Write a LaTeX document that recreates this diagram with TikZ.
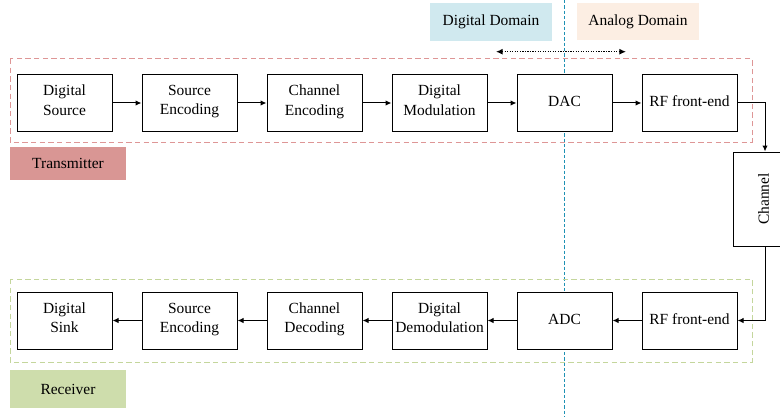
\documentclass[tikz,border=0pt]{standalone}
\usepackage{fontspec}
\setmainfont{Liberation Serif}
\usetikzlibrary{arrows.meta}

\definecolor{txline}{RGB}{222,150,150}
\definecolor{rxline}{RGB}{196,214,156}
\definecolor{txfill}{RGB}{217,150,148}
\definecolor{rxfill}{RGB}{206,221,172}
\definecolor{digfill}{RGB}{208,233,239}
\definecolor{anafill}{RGB}{252,238,227}
\definecolor{divline}{RGB}{30,145,180}

\tikzset{
  block/.style={draw, rectangle, fill=white, minimum width=71.25pt, minimum height=42.75pt,
    inner sep=0pt, align=center, line width=0.75pt, font=\fontsize{11.6}{14.3}\selectfont,
    execute at begin node=\strut, execute at end node=\strut},
  tag/.style={rectangle, inner sep=0pt, font=\fontsize{11.6}{14.3}\selectfont},
  flow/.style={-{Latex[length=4.5pt,width=4pt]}, line width=0.75pt},
  group/.style={line width=0.75pt, dash pattern=on 4pt off 2.5pt}
}

\begin{document}
\begin{tikzpicture}[x=0.75pt, y=-0.75pt]
\useasboundingbox (0,0) rectangle (780,417);

% domain split
\draw[divline, line width=0.75pt, dash pattern=on 2.5pt off 1.5pt] (564.3,0) -- (564.3,417);
\node[tag, fill=digfill, minimum width=91.5pt, minimum height=28.5pt] (digital) at (491,22) {Digital Domain};
\node[tag, fill=anafill, minimum width=91.5pt, minimum height=27.75pt] (analog) at (638,21.5) {Analog Domain};
\coordinate (dleft) at (496,51.7);
\coordinate (dright) at (626,51.7);
\draw[{Latex[length=5pt,width=4.5pt]}-{Latex[length=5pt,width=4.5pt]}, line width=0.9pt, densely dotted] (dleft) -- (dright);

% groups
\draw[group, txline] (10,59) rectangle (752,142);
\draw[group, rxline] (10,279) rectangle (752,362);
\node[tag, fill=txfill, minimum width=87pt, minimum height=24.75pt] (txtag) at (68,163.5) {Transmitter};
\node[tag, fill=rxfill, minimum width=87pt, minimum height=28.5pt] (rxtag) at (68,389) {Receiver};

% transmitter chain
\node[block] (source) at (64.5,103) {Digital\\Source};
\node[block] (srcenc) at (189.5,103) {Source\\Encoding};
\node[block] (chenc) at (314.5,103) {Channel\\Encoding};
\node[block] (mod) at (439.5,103) {Digital\\Modulation};
\node[block] (dac) at (564.5,103) {DAC};
\node[block] (rftx) at (689.5,103) {RF front-end};

% channel
\node[block, rotate=90, minimum width=70.5pt, minimum height=48pt] (chan) at (765,199) {Channel};

% receiver chain
\node[block] (sink) at (64.5,320.5) {Digital\\Sink};
\node[block] (srcdec) at (189.5,320.5) {Source\\Encoding};
\node[block] (chdec) at (314.5,320.5) {Channel\\Decoding};
\node[block] (demod) at (439.5,320.5) {Digital\\Demodulation};
\node[block] (adc) at (564.5,320.5) {ADC};
\node[block] (rfrx) at (689.5,320.5) {RF front-end};

\draw[flow] (source) -- (srcenc);
\draw[flow] (srcenc) -- (chenc);
\draw[flow] (chenc) -- (mod);
\draw[flow] (mod) -- (dac);
\draw[flow] (dac) -- (rftx);
\draw[flow] (rftx.east) -| (chan.east);
\draw[flow] (chan.west) |- (rfrx.east);
\draw[flow] (rfrx) -- (adc);
\draw[flow] (adc) -- (demod);
\draw[flow] (demod) -- (chdec);
\draw[flow] (chdec) -- (srcdec);
\draw[flow] (srcdec) -- (sink);
\end{tikzpicture}
\end{document}
